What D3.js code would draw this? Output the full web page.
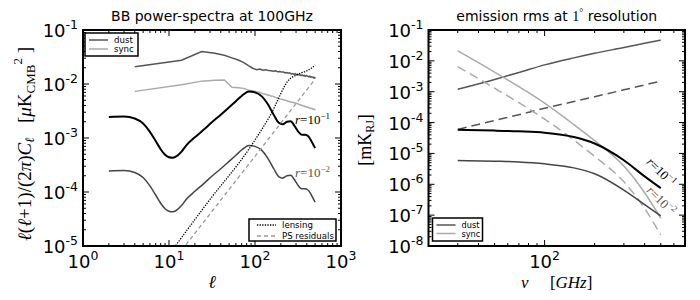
<!DOCTYPE html>
<html>
<head>
<meta charset="utf-8">
<script src="https://cdn.jsdelivr.net/npm/d3@7"></script>
<style>
  body { margin: 0; background: #fff; }
  text { font-family: 'DejaVu Sans', sans-serif; fill: #000; }
  .math { font-family: 'Liberation Serif', 'DejaVu Serif', serif; }
</style>
</head>
<body>
<div id="chart"></div>
<script>
// ---- left panel: BB power spectra at 100GHz ----
const binEll = [4, 14, 24, 34, 44, 54, 64, 74, 84, 94, 104, 114, 124, 134, 144, 154, 164, 174, 184, 194,
  204, 214, 224, 234, 244, 254, 264, 274, 284, 294, 304, 314, 324, 334, 344, 354, 364, 374, 384, 394,
  404, 414, 424, 434, 444, 454, 464, 474, 484, 494, 504];
const dustCl = [0.0208, 0.0276, 0.0400, 0.0372, 0.0340, 0.0305, 0.0278, 0.0248, 0.0218, 0.0196,
  0.0184, 0.0189, 0.0180, 0.0183, 0.0177, 0.0176, 0.0172, 0.0175, 0.0168, 0.0170,
  0.0166, 0.0167, 0.0160, 0.0163, 0.0158, 0.0161, 0.0153, 0.0156, 0.0151, 0.0155,
  0.0148, 0.0151, 0.0147, 0.0148, 0.0143, 0.0147, 0.0142, 0.0144, 0.0139, 0.0143,
  0.0140, 0.0139, 0.0136, 0.0139, 0.0134, 0.0136, 0.0132, 0.0134, 0.0130, 0.0131, 0.0127];
const syncCl = [0.0073, 0.0097, 0.0113, 0.0117, 0.0119, 0.0087, 0.0085, 0.0083, 0.0077, 0.0075,
  0.0072, 0.0070, 0.0066, 0.0064, 0.0062, 0.0060, 0.0059, 0.0056, 0.0055, 0.0053,
  0.0052, 0.0051, 0.0050, 0.0049, 0.0048, 0.0047, 0.0046, 0.0046, 0.0045, 0.0044,
  0.0044, 0.0043, 0.0042, 0.0041, 0.0041, 0.0040, 0.0039, 0.0039, 0.0038, 0.0038,
  0.0037, 0.0037, 0.0036, 0.0036, 0.0035, 0.0035, 0.0035, 0.0034, 0.0034, 0.0034, 0.0033];

const cmbEll = [2, 3, 4, 5, 6, 7, 8, 9, 10, 11, 12, 14, 16, 20, 25, 32, 40, 50, 60, 70, 85, 100,
  120, 140, 165, 190, 210, 235, 260, 290, 320, 350, 380, 410, 440, 470, 500];
const cmbR1 = [2.45e-3, 2.5e-3, 2.3e-3, 1.85e-3, 1.3e-3, 8.8e-4, 6.2e-4, 4.9e-4, 4.4e-4, 4.3e-4, 4.5e-4,
  5.6e-4, 7.4e-4, 1.03e-3, 1.4e-3, 2.0e-3, 2.7e-3, 3.7e-3, 4.8e-3, 6.0e-3, 7.3e-3, 7.0e-3,
  5.9e-3, 4.3e-3, 2.7e-3, 1.9e-3, 1.8e-3, 2.0e-3, 2.05e-3, 1.65e-3, 1.3e-3, 1.15e-3, 1.15e-3,
  1.1e-3, 9.5e-4, 7.8e-4, 6.5e-4];
const cmbR2 = [2.45e-4, 2.5e-4, 2.3e-4, 1.85e-4, 1.3e-4, 8.8e-5, 6.2e-5, 4.9e-5, 4.4e-5, 4.3e-5, 4.5e-5,
  5.6e-5, 7.4e-5, 1.03e-4, 1.4e-4, 2.0e-4, 2.7e-4, 3.7e-4, 4.8e-4, 6.0e-4, 7.3e-4, 7.0e-4,
  5.9e-4, 4.3e-4, 2.7e-4, 1.9e-4, 1.8e-4, 2.0e-4, 2.05e-4, 1.65e-4, 1.3e-4, 1.15e-4, 1.15e-4,
  1.1e-4, 9.5e-5, 7.8e-5, 6.5e-5];

const lensEll = [11, 30, 83, 150, 255, 300, 335, 400, 450, 500];
const lensCl = [8.5e-6, 7.3e-5, 5.9e-4, 2.6e-3, 1.25e-2, 1.45e-2, 1.58e-2, 1.75e-2, 1.95e-2, 2.25e-2];
const psEll = [14, 500];
const psCl = [8.3e-6, 1.23e-2];

// ---- right panel: emission rms at 1 degree ----
const nuGHz = [30, 50, 70, 100, 150, 200, 300, 400, 500];
const dustRms = [1.2e-3, 2.5e-3, 4.2e-3, 7.4e-3, 1.25e-2, 1.76e-2, 2.7e-2, 3.7e-2, 4.7e-2];
const dustRmsLow = [6.0e-5, 1.17e-4, 1.8e-4, 2.9e-4, 4.8e-4, 6.9e-4, 1.15e-3, 1.66e-3, 2.2e-3];
const syncRms = [2.1e-2, 4.3e-3, 1.45e-3, 4.25e-4, 8.6e-5, 2.6e-5, 3.9e-6, 5.3e-7, 8e-8];
const syncRmsLow = [6.5e-3, 1.3e-3, 4.4e-4, 1.3e-4, 2.7e-5, 8e-6, 1.2e-6, 1.65e-7, 2.3e-8];
const cmbRmsR1 = [5.8e-5, 5.5e-5, 5.2e-5, 4.7e-5, 3.4e-5, 2.1e-5, 6e-6, 1.8e-6, 7.5e-7];
const cmbRmsR2 = [5.9e-6, 5.6e-6, 5.3e-6, 4.6e-6, 3.4e-6, 2.2e-6, 6.5e-7, 2.2e-7, 9.5e-8];

const dustColor = '#555555';
const syncColor = '#aaaaaa';

const svg = d3.select('#chart').append('svg')
  .attr('width', 700)
  .attr('height', 300);

// plot areas
const left = { x0: 83, x1: 341, y0: 30, y1: 246 };
const right = { x0: 428.5, x1: 685, y0: 30, y1: 246 };

const xL = d3.scaleLog().domain([1, 1000]).range([left.x0, left.x1]);
const yL = d3.scaleLog().domain([1e-5, 1e-1]).range([left.y1, left.y0]);
const xR = d3.scaleLog().domain([20, 700]).range([right.x0, right.x1]);
const yR = d3.scaleLog().domain([1e-8, 1e-1]).range([right.y1, right.y0]);

const isDecade = (t) => Math.abs(Math.log10(t) - Math.round(Math.log10(t))) < 1e-6;

// power-of-ten tick label: "10" + superscript exponent
function powLabel(sel, v) {
  sel.text('10')
    .append('tspan')
    .attr('dy', -8)
    .attr('font-size', 12.5)
    .text(String(Math.round(Math.log10(v))));
}

function drawAxes(id, box, x, y, xLabels) {
  const g = svg.append('g').attr('class', `axes-${id}`);
  const tk = (t) => (isDecade(t) ? 6 : 3);

  x.ticks().forEach((t) => {
    const px = x(t);
    g.append('line').attr('x1', px).attr('x2', px).attr('y1', box.y1).attr('y2', box.y1 - tk(t))
      .attr('stroke', '#000').attr('stroke-width', 1);
    g.append('line').attr('x1', px).attr('x2', px).attr('y1', box.y0).attr('y2', box.y0 + tk(t))
      .attr('stroke', '#000').attr('stroke-width', 1);
    if (isDecade(t) && xLabels) {
      g.append('text')
        .attr('x', px)
        .attr('y', box.y1 + 22)
        .attr('text-anchor', 'middle')
        .attr('font-size', 18)
        .call(powLabel, t);
    }
  });

  y.ticks().forEach((t) => {
    const py = y(t);
    g.append('line').attr('x1', box.x0).attr('x2', box.x0 + tk(t)).attr('y1', py).attr('y2', py)
      .attr('stroke', '#000').attr('stroke-width', 1);
    g.append('line').attr('x1', box.x1).attr('x2', box.x1 - tk(t)).attr('y1', py).attr('y2', py)
      .attr('stroke', '#000').attr('stroke-width', 1);
    if (isDecade(t)) {
      g.append('text')
        .attr('x', box.x0 - 5)
        .attr('y', py + 7)
        .attr('text-anchor', 'end')
        .attr('font-size', 18)
        .call(powLabel, t);
    }
  });

  return g;
}

function clipFor(id, box) {
  svg.append('clipPath').attr('id', `clip-${id}`)
    .append('rect')
    .attr('x', box.x0).attr('y', box.y0)
    .attr('width', box.x1 - box.x0).attr('height', box.y1 - box.y0);
  return svg.append('g').attr('clip-path', `url(#clip-${id})`);
}

function drawLine(g, x, y, xs, ys, style) {
  const line = d3.line()
    .x((d) => x(d[0]))
    .y((d) => y(d[1]))
    .curve(style.curve || d3.curveLinear);
  g.append('path')
    .datum(xs.map((v, i) => [v, ys[i]]))
    .attr('fill', 'none')
    .attr('stroke', style.color)
    .attr('stroke-width', style.width || 1.5)
    .attr('stroke-dasharray', style.dash || null)
    .attr('d', line);
}

function drawLegend(box, items) {
  const g = svg.append('g').attr('transform', `translate(${box.x},${box.y})`);
  g.append('rect')
    .attr('width', box.w).attr('height', box.h)
    .attr('fill', '#fff').attr('stroke', '#000').attr('stroke-width', 1.5);
  items.forEach((it, i) => {
    const yy = box.first + i * box.step;
    g.append('line')
      .attr('x1', box.lineX).attr('x2', box.lineX + 19)
      .attr('y1', yy).attr('y2', yy)
      .attr('stroke', it.color).attr('stroke-width', it.width || 1.5)
      .attr('stroke-dasharray', it.dash || null);
    g.append('text')
      .attr('x', box.lineX + 25).attr('y', yy + 3)
      .attr('font-size', box.font || 8.6)
      .text(it.label);
  });
}

function rLabel(sel, exp) {
  sel.append('tspan').attr('font-style', 'italic').text('r');
  sel.append('tspan').text('=10');
  sel.append('tspan').attr('dy', -5).attr('font-size', 9).text(`\u2212${exp}`);
}

// ---------- left panel ----------
const gL = clipFor('left', left);
drawLine(gL, xL, yL, binEll, dustCl, { color: dustColor, width: 1.5 });
drawLine(gL, xL, yL, binEll, syncCl, { color: syncColor, width: 1.5 });
drawLine(gL, xL, yL, cmbEll, cmbR1, { color: '#000', width: 2, curve: d3.curveMonotoneX });
drawLine(gL, xL, yL, cmbEll, cmbR2, { color: '#444', width: 1.5, curve: d3.curveMonotoneX });
drawLine(gL, xL, yL, lensEll, lensCl, { color: '#000', width: 1.3, dash: '1.3,1.3', curve: d3.curveMonotoneX });
drawLine(gL, xL, yL, psEll, psCl, { color: '#999', width: 1.3, dash: '4,3' });

svg.append('text').attr('class', 'math')
  .attr('x', xL(292)).attr('y', yL(1.8e-3))
  .attr('font-size', 13)
  .call(rLabel, 1);
svg.append('text').attr('class', 'math')
  .attr('x', xL(292)).attr('y', yL(1.9e-4))
  .attr('font-size', 13)
  .style('fill', '#555')
  .call(rLabel, 2);

drawAxes('left', left, xL, yL, true);
svg.append('rect')
  .attr('x', left.x0).attr('y', left.y0)
  .attr('width', left.x1 - left.x0).attr('height', left.y1 - left.y0)
  .attr('fill', 'none').attr('stroke', '#000').attr('stroke-width', 2);

drawLegend({ x: left.x0 + 2, y: left.y0 + 3, w: 53, h: 23, first: 7, step: 9, lineX: 4 }, [
  { label: 'dust', color: dustColor },
  { label: 'sync', color: syncColor },
]);
drawLegend({ x: left.x1 - 92, y: left.y1 - 27, w: 87, h: 22, first: 6, step: 11, lineX: 8 }, [
  { label: 'lensing', color: '#000', dash: '1.3,1.3', width: 1.3 },
  { label: 'PS residuals', color: '#999', dash: '4,3', width: 1.3 },
]);

svg.append('text')
  .attr('x', (left.x0 + left.x1) / 2).attr('y', 21)
  .attr('text-anchor', 'middle').attr('font-size', 14)
  .text('BB power-spectra at 100GHz');

svg.append('text').attr('class', 'math')
  .attr('x', (left.x0 + left.x1) / 2).attr('y', 288)
  .attr('text-anchor', 'middle').attr('font-size', 18).attr('font-style', 'italic')
  .text('\u2113');

const yLab = svg.append('text').attr('class', 'math')
  .attr('transform', 'translate(31,144) rotate(-90)')
  .attr('text-anchor', 'middle').attr('font-size', 19);
yLab.append('tspan').attr('font-style', 'italic').text('\u2113');
yLab.append('tspan').text('(');
yLab.append('tspan').attr('font-style', 'italic').text('\u2113');
yLab.append('tspan').text('+1)/(2');
yLab.append('tspan').attr('font-style', 'italic').text('\u03c0');
yLab.append('tspan').text(')');
yLab.append('tspan').attr('font-style', 'italic').text('C');
yLab.append('tspan').attr('font-style', 'italic').attr('font-size', 13).attr('dy', 3).text('\u2113');
yLab.append('tspan').attr('dy', -3).text('\u00a0\u00a0\u00a0[');
yLab.append('tspan').attr('font-style', 'italic').text('\u03bc');
yLab.append('tspan').text('K');
yLab.append('tspan').attr('font-size', 13).attr('dy', 4).text('CMB');
yLab.append('tspan').attr('font-size', 13).attr('dy', -13).text('2');
yLab.append('tspan').attr('dy', 9).text('\u00a0]');

// ---------- right panel ----------
const gR = clipFor('right', right);
drawLine(gR, xR, yR, nuGHz, dustRms, { color: dustColor, width: 1.5, curve: d3.curveMonotoneX });
drawLine(gR, xR, yR, nuGHz, dustRmsLow, { color: dustColor, width: 1.5, dash: '9,5', curve: d3.curveMonotoneX });
drawLine(gR, xR, yR, nuGHz, syncRms, { color: syncColor, width: 1.5, curve: d3.curveMonotoneX });
drawLine(gR, xR, yR, nuGHz, syncRmsLow, { color: syncColor, width: 1.5, dash: '9,5', curve: d3.curveMonotoneX });
drawLine(gR, xR, yR, nuGHz, cmbRmsR1, { color: '#000', width: 2, curve: d3.curveMonotoneX });
drawLine(gR, xR, yR, nuGHz, cmbRmsR2, { color: '#444', width: 1.5, curve: d3.curveMonotoneX });

svg.append('text').attr('class', 'math')
  .attr('text-anchor', 'middle').attr('font-size', 13)
  .attr('transform', `translate(${xR(482)},${yR(2.0e-6)}) rotate(45)`)
  .call(rLabel, 1);
svg.append('text').attr('class', 'math')
  .attr('text-anchor', 'middle').attr('font-size', 13)
  .style('fill', '#555')
  .attr('transform', `translate(${xR(482)},${yR(2.35e-7)}) rotate(45)`)
  .call(rLabel, 2);

drawAxes('right', right, xR, yR, true);
svg.append('rect')
  .attr('x', right.x0).attr('y', right.y0)
  .attr('width', right.x1 - right.x0).attr('height', right.y1 - right.y0)
  .attr('fill', 'none').attr('stroke', '#000').attr('stroke-width', 2);

drawLegend({ x: right.x0 + 4, y: right.y1 - 28, w: 50, h: 23, first: 7, step: 8.5, lineX: 4, font: 8.2 }, [
  { label: 'dust', color: dustColor },
  { label: 'sync', color: syncColor },
]);

const tR = svg.append('text')
  .attr('x', (right.x0 + right.x1) / 2).attr('y', 21)
  .attr('text-anchor', 'middle').attr('font-size', 14);
tR.append('tspan').text('emission rms at ');
tR.append('tspan').attr('class', 'math').text('1');
tR.append('tspan').attr('class', 'math').attr('dy', -5).attr('font-size', 10).text('\u00b0');
tR.append('tspan').attr('dy', 5).text(' resolution');

const xLabR = svg.append('text').attr('class', 'math')
  .attr('x', (right.x0 + right.x1) / 2).attr('y', 288)
  .attr('text-anchor', 'middle').attr('font-size', 17);
xLabR.append('tspan').attr('font-style', 'italic').text('\u03bd');
xLabR.append('tspan').text('\u00a0\u00a0\u00a0\u00a0\u00a0[');
xLabR.append('tspan').attr('font-style', 'italic').text('GHz');
xLabR.append('tspan').text(']');

const yLabR = svg.append('text').attr('class', 'math')
  .attr('transform', 'translate(371,140) rotate(-90)')
  .attr('text-anchor', 'middle').attr('font-size', 18);
yLabR.append('tspan').text('[mK');
yLabR.append('tspan').attr('font-size', 12).attr('dy', 3).text('RJ');
yLabR.append('tspan').attr('dy', -3).text(']');
</script>
</body>
</html>
